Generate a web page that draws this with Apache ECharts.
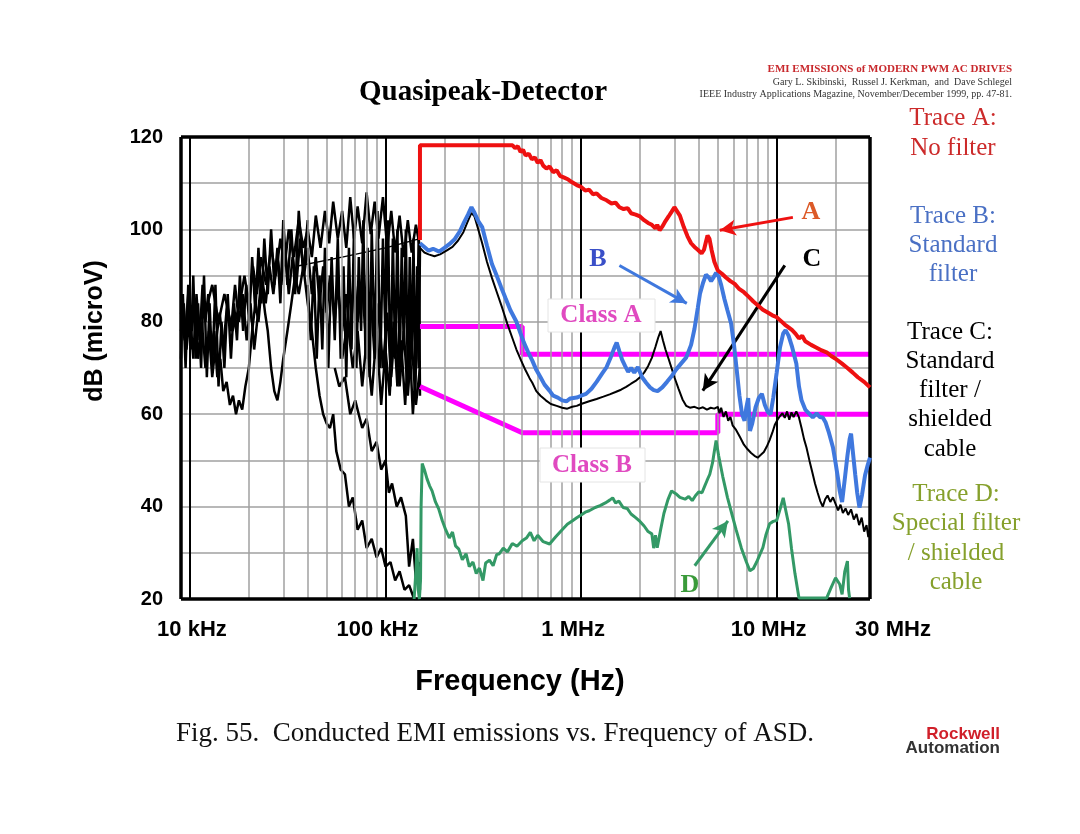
<!DOCTYPE html>
<html><head><meta charset="utf-8">
<script src="https://cdn.jsdelivr.net/npm/echarts@6/dist/echarts.min.js"></script>
<style>html,body{margin:0;padding:0;background:#fff}#c{width:1080px;height:834px}</style>
</head><body><div id="c"></div>
<script>
// ---- axis ticks ----
const xTickFreqs = [1e4, 1e5, 1e6, 1e7, 3e7];
const xTickNames = ['10 kHz', '100 kHz', '1 MHz', '10 MHz', '30 MHz'];
const yTicks = [20, 40, 60, 80, 100, 120];
const decadeLinesHz = [1e4, 1e5, 1e6, 1e7];
const minorLinesHz = [2e4,3e4,4e4,5e4,6e4,7e4,8e4,9e4,2e5,3e5,4e5,5e5,6e5,7e5,8e5,9e5,2e6,3e6,4e6,5e6,6e6,7e6,8e6,9e6,2e7];

// ---- limit lines (kHz, dBuV) ----
const classA = [[150,79],[500,79],[500,73],[30000,73]];
const classB = [[150,66],[500,56],[5000,56],[5000,60],[30000,60]];

// ---- Trace A : no filter (kHz, dBuV) ----
const traceA = [[150,97.7],[150,118.2],[200,118.2],[300,118.2],[446,118.2],[460,117.6],[475,118],[490,116.8],[505,117.2],[520,116],[540,116.4],[560,115.2],[580,115.6],[600,114.4],[620,115],[640,113.8],[665,113.2],[690,113.6],[720,112.4],[750,112.8],[780,111.6],[820,111.2],[860,110.8],[900,110.2],[950,109.6],[1000,109.2],[1050,108.4],[1100,108.6],[1150,107.6],[1200,107.8],[1270,106.8],[1350,106.3],[1430,105.6],[1500,105.8],[1570,104.8],[1650,104.4],[1730,104.6],[1800,103.5],[1900,103.2],[2000,102.8],[2100,102],[2200,101.4],[2300,101],[2400,100.2],[2450,101],[2520,99.8],[2600,100.6],[2700,101.8],[2800,102.8],[2900,103.8],[3000,104.8],[3070,105.2],[3200,103],[3350,100.5],[3500,98.5],[3650,97],[3800,96.2],[3950,95.6],[4130,94.8],[4250,95.6],[4330,97],[4430,98.7],[4530,98],[4650,95.5],[4800,93],[5000,91.1],[5250,90.4],[5500,89.6],[5800,88.8],[6100,88.2],[6400,87.2],[6800,86.4],[7200,85.4],[7600,84.4],[8000,83.6],[8500,82.6],[9000,82],[9500,81.4],[10000,81],[10500,80.2],[11000,79.4],[11500,78.8],[12000,78.2],[12500,77.4],[13000,76.4],[13500,77],[14000,75.8],[15000,75],[16000,74.4],[17000,73.8],[18000,73.4],[19000,72.6],[20000,72],[21500,71],[23000,70],[24500,69],[26000,68],[28000,67],[30000,65.8]];

// ---- Trace B : standard filter ----
const traceB = [[150,97],[158,96.2],[166,95.4],[175,95.8],[188,95.2],[200,96],[212,96.8],[225,97.8],[240,99.6],[252,101.5],[264,103.2],[275,104.8],[285,103.6],[298,101.8],[312,100.5],[330,96.5],[350,92.5],[370,90],[390,87.5],[410,85.2],[435,82.5],[467,80],[490,77.5],[510,75.5],[535,73.5],[563,71.6],[590,69.6],[620,68],[650,66.4],[689,65.1],[720,64],[760,63.6],[800,63],[841,62.8],[880,63.4],[950,63.6],[1000,64],[1060,64.4],[1130,65.5],[1200,67],[1280,68.8],[1350,70.2],[1420,72.4],[1480,74.4],[1520,75.5],[1570,73.6],[1620,71.8],[1680,70.4],[1740,69.2],[1800,70],[1870,69],[1950,70.2],[2050,68],[2150,66.8],[2250,65.8],[2350,65.2],[2460,65],[2600,65.8],[2750,67],[2900,68.2],[3050,69.6],[3250,71],[3450,72.3],[3650,75],[3800,78.5],[3950,83],[4050,86],[4200,88.4],[4350,90.2],[4500,89.6],[4620,88.8],[4750,89.6],[4900,90.6],[5050,89.8],[5200,88],[5400,85],[5600,82.5],[5850,79.6],[6050,75],[6250,69.5],[6450,64],[6650,60],[6850,58.6],[7000,61.5],[7150,63.5],[7300,56.4],[7500,58],[7800,61.5],[8100,63.5],[8400,64.4],[8700,62],[9000,60.5],[9300,60],[9600,63.5],[10000,69],[10400,74.5],[10800,77.5],[11100,78.2],[11500,77],[12000,74.5],[12600,71],[13000,66],[13400,63],[14000,61],[14600,60.2],[15300,59.3],[16000,60.2],[16600,59.4],[17200,59.3],[17800,58.2],[18500,56],[19400,52.8],[20000,49.5],[20600,46],[21000,43.4],[21600,41],[22300,46],[23000,51],[23600,54.6],[24000,55.8],[24500,52],[25200,47],[25800,43],[26500,39.8],[27300,42.5],[28300,46.8],[29200,49],[30000,50.6]];

// ---- Trace C : standard filter / shielded cable ----
const traceC = [[150,96],[158,95],[166,94.6],[178,94.2],[190,94.6],[205,95.4],[220,96.2],[235,97.6],[250,99.4],[262,101.5],[275,103.6],[285,102.8],[298,100],[312,97],[330,93],[350,89.5],[370,86.5],[395,83],[420,79.5],[445,76.5],[467,74],[495,71.5],[520,69.5],[545,67.8],[563,66.8],[590,65],[620,64],[660,63],[700,62.2],[750,61.8],[800,61.4],[850,61.2],[900,61.6],[950,61.8],[1000,62.2],[1100,62.8],[1200,63.3],[1300,63.8],[1400,64.3],[1500,64.8],[1600,65.3],[1700,65.9],[1800,66.6],[1900,67.2],[2000,68],[2100,69],[2200,70.4],[2300,72.2],[2400,74.6],[2480,76.6],[2550,78],[2620,76],[2700,74],[2800,72],[2900,70],[3000,68],[3150,65.5],[3300,63.2],[3450,61.8],[3600,61.4],[3800,61.6],[4000,61.2],[4200,61.5],[4400,61],[4600,61.4],[4800,61.2],[5000,61.6],[5100,60.2],[5200,61.4],[5350,59.4],[5500,60.6],[5650,58.6],[5800,59.4],[5950,57.6],[6200,56.6],[6500,55],[6800,53.4],[7100,52.4],[7400,51.6],[7700,51],[8000,50.6],[8300,51.2],[8600,51.8],[8900,53],[9200,54.4],[9500,56],[9800,57.8],[10100,58.8],[10400,59.6],[10700,60.2],[11000,59.2],[11300,60.6],[11600,58.8],[11900,60.4],[12200,59.4],[12600,60.6],[13000,59.3],[13400,57],[13800,54.6],[14200,52.8],[14700,50],[15200,47.5],[15700,45],[16200,43],[16700,41.2],[17200,40],[17700,41.6],[18200,42.4],[18800,41],[19400,42],[20000,40.6],[20600,39.2],[21200,40.4],[21800,38.6],[22500,39.6],[23200,38.2],[24000,39.4],[24800,37.2],[25600,38.4],[26400,36],[27200,37.6],[28000,34.6],[28800,36],[29400,33.4],[30000,35.4]];

// ---- Trace D : special filter / shielded cable ----
const traceD = [[140,20],[143,26],[145,31],[147,22],[149,20],[151,24],[152,40],[154,49.3],[158,48],[163,46],[168,44.5],[173,43.4],[180,41],[187,39.5],[195,37],[203,35],[212,33.2],[220,34.5],[228,31.5],[237,30.8],[247,28.5],[258,29.8],[268,27],[280,28],[291,25.5],[302,26.7],[315,24],[325,27.8],[340,28.4],[355,27.2],[370,29.6],[382,29.8],[400,31],[420,30.2],[445,32],[470,31.4],[500,32.6],[525,33.2],[550,34.4],[575,32.6],[600,33.8],[640,32.4],[690,31.9],[740,33.4],[800,35],[850,36.2],[900,36.9],[950,37.6],[1000,38.2],[1050,38.8],[1100,39.1],[1180,39.8],[1250,40.2],[1330,40.8],[1400,41.4],[1450,41.9],[1500,40.8],[1560,41.2],[1640,39.8],[1720,39.6],[1800,38.4],[1900,37.6],[2000,36.8],[2100,35.8],[2200,34.6],[2300,34.1],[2350,31],[2400,33.8],[2450,31.1],[2550,35],[2650,38.5],[2780,41.5],[2900,43.4],[3050,42.8],[3200,42],[3400,41.6],[3550,42.2],[3700,41.3],[3850,42.4],[4000,43.2],[4150,43],[4300,44.6],[4400,45.6],[4550,47],[4700,49.5],[4800,52],[4900,54.3],[5050,51],[5300,46.5],[5600,42],[5900,38.4],[6200,35],[6600,31],[7000,28],[7300,26.1],[7600,26.6],[7900,28],[8200,29.6],[8500,31.1],[8800,33.8],[9200,36.3],[9600,36.8],[10000,37],[10400,39.4],[10800,41.9],[11150,39],[11500,36.3],[11900,31],[12400,25.5],[13000,20.2],[15000,20.2],[18000,20.2],[19000,22.5],[20000,24.6],[21000,23.2],[21600,21],[22300,26],[23000,28.2],[23300,22],[23600,20.2]];

// ---- low-frequency raw scans (black), kHz, dBuV ----
const low1 = [[9,78],[9.3,84],[9.6,74],[10,82],[10.4,72],[10.8,86],[11.2,76],[11.6,88],[12,80],[12.4,86],[12.8,74],[13.3,78],[13.8,68],[14.3,72],[14.8,65],[15.4,67],[16,62],[16.6,64],[17.2,60],[17.8,63],[18.5,61],[19.2,66],[20,70],[20.8,78],[21.6,84],[22.4,80],[23.3,88],[24.2,82],[25,78],[26,70],[27,65],[28,63],[29,67],[30,72],[31.5,78],[33,84],[34.5,90],[36,86],[38,92],[40,84],[42,78],[44,70],[46,64],[48,60],[50,58],[52,57],[54,60],[56,52],[59,48],[62,47],[65,40],[68,42],[72,35],[76,37],[80,31],[85,33],[90,29],[95,31],[100,27],[106,28],[112,24],[118,26],[125,22],[132,23],[140,20],[148,20]];
const low2 = [[9,82],[9.4,76],[9.8,86],[10.2,78],[10.6,84],[11,72],[11.5,80],[12,70],[12.5,78],[13,68],[13.6,76],[14.2,82],[14.8,74],[15.5,84],[16.2,78],[17,88],[17.8,80],[18.6,86],[19.5,76],[20.4,84],[21.3,74],[22.3,82],[23.3,90],[24.4,84],[25.5,92],[26.7,86],[28,94],[29.3,88],[30.7,96],[32,86],[33.5,94],[35,88],[36.6,98],[38.3,90],[40,96],[42,86],[44,94],[46,84],[48,92],[50,82],[52,90],[55,80],[57,88],[60,78],[63,86],[66,76],[69,90],[72,80],[76,88],[80,74],[84,86],[88,72],[92,84],[97,70],[102,82],[107,68],[112,80],[118,66],[124,78],[130,64],[136,76],[143,62],[150,70]];
const low3 = [[12,82],[13,88],[14,80],[15,86],[16.5,78],[18,84],[19,90],[20,84],[21,92],[22,86],[23,94],[24.5,88],[26,96],[27.5,90],[29,98],[30.5,92],[32,100],[34,94],[36,102],[38,96],[40,100],[42,94],[44,103],[46.5,96],[49,104],[51.5,97],[54,106],[57,98],[60,104],[63,96],[66,107],[69,98],[72,105],[76,97],[80,108],[84,99],[88,106],[92,98],[97,107],[102,96],[107,104],[112,95],[118,103],[124,94],[130,102],[136,95],[143,101],[150,96]];
const low4 = [[60,72],[64,80],[68,70],[72,78],[76,66],[80,76],[85,64],[90,78],[95,62],[100,74],[105,64],[110,80],[115,66],[120,76],[126,62],[132,78],[138,60],[144,72],[148,100],[150,64]];
const low5 = [[55,70],[58,66],[62,68],[66,60],[70,63],[76,57],[80,59],[85,52],[90,54],[95,48],[100,50],[104,43],[108,45],[114,40],[120,42],[127,38],[132,27],[138,33],[143,24],[148,28],[150,22]];
const low6 = [[35,92],[60,94],[100,96],[150,98]];
const low7 = [[40,88],[41.5,76],[43,92],[44.5,72],[46,90],[47.5,74],[49,96],[51,70],[53,94],[55,76],[57,98],[59,72],[61,92],[63,68],[65,96],[67,74],[69,100],[71,70],[73,94],[75,78],[77,102],[79,72],[81,96],[83,68],[85,100],[88,74],[91,104],[94,70],[97,98],[100,76],[103,102],[106,66],[109,98],[112,72],[115,100],[118,68],[121,96],[124,74],[127,100],[130,66],[133,94],[136,72],[139,98],[142,64],[145,92],[148,70],[150,96]];
const low8 = [[9,72],[9.2,86],[9.5,70],[9.8,88],[10.1,74],[10.4,90],[10.7,72],[11,84],[11.4,70],[11.8,90],[12.2,68],[12.6,84],[13,70],[13.5,88],[14,66],[14.5,80],[15,70],[15.6,86],[16.2,72],[16.8,84],[17.4,76],[18,90],[18.7,78],[19.4,88],[20.1,80],[20.8,94],[21.6,82],[22.4,96],[23.2,84],[24,98],[25,86],[26,100],[27,88],[28,96],[29,84],[30,102],[31.5,88],[33,100],[34.5,86],[36,104],[38,90],[40,102]];

const kHz = arr => arr.map(p => [p[0] * 1000, p[1]]);
const F_SERIF = '"Liberation Serif","Times New Roman",serif';
const F_SANS = '"Liberation Sans",Arial,sans-serif';

function lineSeries(name, data, color, width, z, extra) {
  return Object.assign({
    name, type: 'line', data: kHz(data), showSymbol: false, symbol: 'none',
    lineStyle: { color, width }, z, animation: false, silent: true
  }, extra || {});
}
function arrow(from, to, color) {
  return {
    silent: true, symbol: ['none', 'arrow'], symbolSize: [12, 16], animation: false,
    label: { show: false }, lineStyle: { color, width: 3, type: 'solid' },
    data: [[{ coord: [from[0] * 1000, from[1]] }, { coord: [to[0] * 1000, to[1]] }]]
  };
}

const chart = echarts.init(document.getElementById('c'), null, { renderer: 'canvas' });

const gridMarks = [];
minorLinesHz.forEach(f => gridMarks.push({ xAxis: f, lineStyle: { color: '#a0a0a0', width: 1.5, type: 'solid' } }));
decadeLinesHz.forEach(f => gridMarks.push({ xAxis: f, lineStyle: { color: '#000', width: 2, type: 'solid' } }));
const frameMarks = [
  { yAxis: 20, lineStyle: { color: '#000', width: 3.5, type: 'solid' } },
  { yAxis: 120, lineStyle: { color: '#000', width: 3.5, type: 'solid' } },
  { xAxis: 9000, lineStyle: { color: '#000', width: 3.5, type: 'solid' } },
  { xAxis: 3e7, lineStyle: { color: '#000', width: 3.5, type: 'solid' } }
];

const labelShift = { '10 kHz': 'a', '100 kHz': 'b', '1 MHz': 'b', '10 MHz': 'b', '30 MHz': 'c' };

const option = {
  backgroundColor: '#fff',
  animation: false,
  grid: { left: 181, top: 137, width: 689, height: 462, show: false },
  xAxis: {
    type: 'log', logBase: 10, min: 9000, max: 3e7,
    axisLine: { show: false }, axisTick: { show: false }, splitLine: { show: false },
    axisLabel: {
      show: true, showMinLabel: true, showMaxLabel: true, margin: 20,
      formatter: v => {
        for (let i = 0; i < xTickFreqs.length; i++) {
          if (Math.abs(Math.log10(v) - Math.log10(xTickFreqs[i])) < 1e-4) {
            return '{' + labelShift[xTickNames[i]] + '|' + xTickNames[i] + '}';
          }
        }
        return '';
      },
      rich: {
        a: { fontFamily: F_SANS, fontWeight: 'bold', fontSize: 22, color: '#000', padding: [0, 0, 0, 4] },
        b: { fontFamily: F_SANS, fontWeight: 'bold', fontSize: 22, color: '#000', padding: [0, 16, 0, 0] },
        c: { fontFamily: F_SANS, fontWeight: 'bold', fontSize: 22, color: '#000', padding: [0, 0, 0, 46] }
      }
    }
  },
  yAxis: {
    type: 'value', min: 20, max: 120, interval: 10,
    axisLine: { show: false }, axisTick: { show: false },
    splitLine: { show: true, lineStyle: { color: '#a0a0a0', width: 1.5 } },
    axisLabel: {
      margin: 18, fontFamily: F_SANS, fontWeight: 'bold', fontSize: 20, color: '#000',
      formatter: v => (yTicks.indexOf(v) >= 0 ? String(v) : '')
    }
  },
  series: [
    { name: 'grid', type: 'line', data: [], z: 1, silent: true, animation: false,
      markLine: { silent: true, symbol: 'none', animation: false, label: { show: false }, data: gridMarks } },
    lineSeries('low8', low8, '#000', 2.5, 3),
    lineSeries('low2', low2, '#000', 2.5, 3),
    lineSeries('low3', low3, '#000', 2.5, 3),
    lineSeries('low7', low7, '#000', 2.5, 3),
    lineSeries('low1', low1, '#000', 2.5, 3),
    lineSeries('low4', low4, '#000', 2.5, 3),
    lineSeries('low5', low5, '#000', 2.5, 3),
    lineSeries('low6', low6, '#000', 1.5, 3),
    lineSeries('Class A', classA, '#ff00ff', 5, 4),
    lineSeries('Class B', classB, '#ff00ff', 5, 4),
    lineSeries('Trace D', traceD, '#339966', 3, 5, { markLine: arrow([3810, 27.2], [5630, 36.9], '#339966') }),
    lineSeries('Trace C', traceC, '#000', 2, 6, { markLine: arrow([11000, 92.2], [4190, 65.1], '#000') }),
    lineSeries('Trace B', traceB, '#3f78de', 4, 7, { markLine: arrow([1570, 92.2], [3470, 84], '#3f78de') }),
    lineSeries('Trace A', traceA, '#ee1111', 4, 8, { markLine: arrow([12100, 102.6], [5120, 99.8], '#ee1111') }),
    { name: 'frame', type: 'line', data: [], z: 20, silent: true, animation: false,
      markLine: { silent: true, symbol: 'none', animation: false, label: { show: false }, data: frameMarks } }
  ],
  graphic: [
    { type: 'text', style: { text: 'Quasipeak-Detector', x: 483, y: 93, font: 'bold 29px ' + F_SERIF, fill: '#000', textAlign: 'center', textVerticalAlign: 'middle' } },
    { type: 'text', style: { text: 'EMI EMISSIONS of MODERN PWM AC DRIVES', x: 1012, y: 69, font: 'bold 11px ' + F_SERIF, fill: '#c8282c', textAlign: 'right', textVerticalAlign: 'middle' } },
    { type: 'text', style: { text: 'Gary L. Skibinski,  Russel J. Kerkman,  and  Dave Schlegel', x: 1012, y: 82, font: '10px ' + F_SERIF, fill: '#333', textAlign: 'right', textVerticalAlign: 'middle' } },
    { type: 'text', style: { text: 'IEEE Industry Applications Magazine, November/December 1999, pp. 47-81.', x: 1012, y: 94, font: '10px ' + F_SERIF, fill: '#333', textAlign: 'right', textVerticalAlign: 'middle' } },

    { type: 'text', style: { text: 'Trace A:', x: 953, y: 118, font: '25px ' + F_SERIF, fill: '#cc2a2a', textAlign: 'center', textVerticalAlign: 'middle' } },
    { type: 'text', style: { text: 'No filter', x: 953, y: 148, font: '25px ' + F_SERIF, fill: '#cc2a2a', textAlign: 'center', textVerticalAlign: 'middle' } },
    { type: 'text', style: { text: 'Trace B:', x: 953, y: 216, font: '25px ' + F_SERIF, fill: '#4a70c4', textAlign: 'center', textVerticalAlign: 'middle' } },
    { type: 'text', style: { text: 'Standard', x: 953, y: 245, font: '25px ' + F_SERIF, fill: '#4a70c4', textAlign: 'center', textVerticalAlign: 'middle' } },
    { type: 'text', style: { text: 'filter', x: 953, y: 274, font: '25px ' + F_SERIF, fill: '#4a70c4', textAlign: 'center', textVerticalAlign: 'middle' } },
    { type: 'text', style: { text: 'Trace C:', x: 950, y: 332, font: '25px ' + F_SERIF, fill: '#000', textAlign: 'center', textVerticalAlign: 'middle' } },
    { type: 'text', style: { text: 'Standard', x: 950, y: 361, font: '25px ' + F_SERIF, fill: '#000', textAlign: 'center', textVerticalAlign: 'middle' } },
    { type: 'text', style: { text: 'filter /', x: 950, y: 390, font: '25px ' + F_SERIF, fill: '#000', textAlign: 'center', textVerticalAlign: 'middle' } },
    { type: 'text', style: { text: 'shielded', x: 950, y: 419, font: '25px ' + F_SERIF, fill: '#000', textAlign: 'center', textVerticalAlign: 'middle' } },
    { type: 'text', style: { text: 'cable', x: 950, y: 449, font: '25px ' + F_SERIF, fill: '#000', textAlign: 'center', textVerticalAlign: 'middle' } },
    { type: 'text', style: { text: 'Trace D:', x: 956, y: 494, font: '25px ' + F_SERIF, fill: '#86a02c', textAlign: 'center', textVerticalAlign: 'middle' } },
    { type: 'text', style: { text: 'Special filter', x: 956, y: 523, font: '25px ' + F_SERIF, fill: '#86a02c', textAlign: 'center', textVerticalAlign: 'middle' } },
    { type: 'text', style: { text: '/ shielded', x: 956, y: 553, font: '25px ' + F_SERIF, fill: '#86a02c', textAlign: 'center', textVerticalAlign: 'middle' } },
    { type: 'text', style: { text: 'cable', x: 956, y: 582, font: '25px ' + F_SERIF, fill: '#86a02c', textAlign: 'center', textVerticalAlign: 'middle' } },

    { type: 'rect', z: 50, shape: { x: 548, y: 299, width: 107, height: 33 }, style: { fill: '#fff', stroke: '#e4e4e4', lineWidth: 1 } },
    { type: 'text', z: 51, style: { text: 'Class A', x: 601, y: 316, font: 'bold 25px ' + F_SERIF, fill: '#e04ac0', textAlign: 'center', textVerticalAlign: 'middle' } },
    { type: 'rect', z: 50, shape: { x: 540, y: 448, width: 105, height: 34 }, style: { fill: '#fff', stroke: '#e4e4e4', lineWidth: 1 } },
    { type: 'text', z: 51, style: { text: 'Class B', x: 592, y: 466, font: 'bold 25px ' + F_SERIF, fill: '#e04ac0', textAlign: 'center', textVerticalAlign: 'middle' } },
    { type: 'text', z: 51, style: { text: 'A', x: 811, y: 212, font: 'bold 26px ' + F_SERIF, fill: '#dc5a28', textAlign: 'center', textVerticalAlign: 'middle' } },
    { type: 'text', z: 51, style: { text: 'B', x: 598, y: 259, font: 'bold 26px ' + F_SERIF, fill: '#3a4fc8', textAlign: 'center', textVerticalAlign: 'middle' } },
    { type: 'text', z: 51, style: { text: 'C', x: 812, y: 259, font: 'bold 26px ' + F_SERIF, fill: '#000', textAlign: 'center', textVerticalAlign: 'middle' } },
    { type: 'text', z: 51, style: { text: 'D', x: 690, y: 585, font: 'bold 26px ' + F_SERIF, fill: '#3a9a3a', textAlign: 'center', textVerticalAlign: 'middle' } },

    { type: 'text', rotation: Math.PI / 2, x: 95, y: 331, style: { text: 'dB (microV)', x: 0, y: 0, font: 'bold 25px ' + F_SANS, fill: '#000', textAlign: 'center', textVerticalAlign: 'middle' } },
    { type: 'text', style: { text: 'Frequency (Hz)', x: 520, y: 682, font: 'bold 29px ' + F_SANS, fill: '#000', textAlign: 'center', textVerticalAlign: 'middle' } },
    { type: 'text', style: { text: 'Fig. 55.  Conducted EMI emissions vs. Frequency of ASD.', x: 495, y: 734, font: '27px ' + F_SERIF, fill: '#111', textAlign: 'center', textVerticalAlign: 'middle' } },
    { type: 'text', style: { text: 'Rockwell', x: 1000, y: 734, font: '900 17px ' + F_SANS, fill: '#d0202a', textAlign: 'right', textVerticalAlign: 'middle' } },
    { type: 'text', style: { text: 'Automation', x: 1000, y: 748, font: '900 17px ' + F_SANS, fill: '#333', textAlign: 'right', textVerticalAlign: 'middle' } }
  ]
};
chart.setOption(option);
</script>
</body></html>
